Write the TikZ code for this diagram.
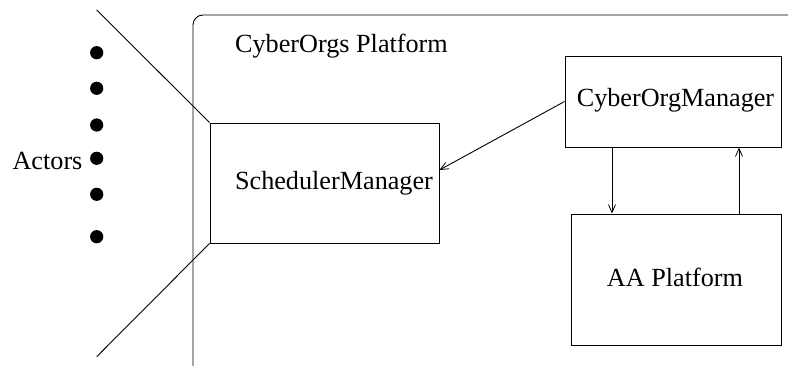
\documentclass[tikz,border=0pt]{standalone}
\usepackage{fontspec}
\setmainfont{Liberation Serif}
\usetikzlibrary{arrows.meta}
\begin{document}
\begin{tikzpicture}[x=1pt,y=-1pt,
  line width=0.9pt,
  every node/.style={font=\fontsize{26.2}{30}\selectfont},
  box/.style={draw,rectangle,inner sep=0pt},
  lbl/.style={anchor=base,inner sep=0pt},
  arr/.style={-{Straight Barb[length=8pt,width=7pt,line width=0.8pt]}}]
\useasboundingbox (0,0) rectangle (788,366);

% platform frame, running off the right and bottom edges
\begin{scope}
  \clip (0,0) rectangle (788,366);
  \draw[rounded corners=10pt] (193,15) rectangle (810,390);
\end{scope}
\node[lbl] (ptitle) at (341.5,52.7) {CyberOrgs Platform};

% boxes
\node[box,minimum width=229pt,minimum height=120pt] (sm) at (324.5,183) {};
\node[lbl] (smt) at (334,190) {SchedulerManager};
\node[box,minimum width=216pt,minimum height=91pt] (com) at (673,101.5) {};
\node[lbl] (comt) at (675.5,106.7) {CyberOrgManager};
\node[box,minimum width=210pt,minimum height=131pt] (aa) at (676,279.5) {};
\node[lbl] (aat) at (675,286.7) {AA Platform};

% actors
\foreach \i/\yy in {1/52.7,2/88.3,3/125,4/158.3,5/194.3,6/236.7}
  \fill (96.7,\yy) circle (6.6pt) coordinate (dot\i);
\node[lbl] (actors) at (47.5,170) {Actors};

% funnel lines into the scheduler
\coordinate (ftop) at (96.7,10);
\coordinate (fbot) at (96.7,356.7);
\draw (ftop) -- (sm.north west);
\draw (sm.south west) -- (fbot);

% connectors
\draw[arr] (com.west) -- ([yshift=13pt]sm.east);
\draw[arr] ([xshift=-61pt]com.south) -- ([xshift=-61pt]com.south |- aa.north);
\draw[arr] ([xshift=66pt]com.south |- aa.north) -- ([xshift=66pt]com.south);
\end{tikzpicture}
\end{document}
